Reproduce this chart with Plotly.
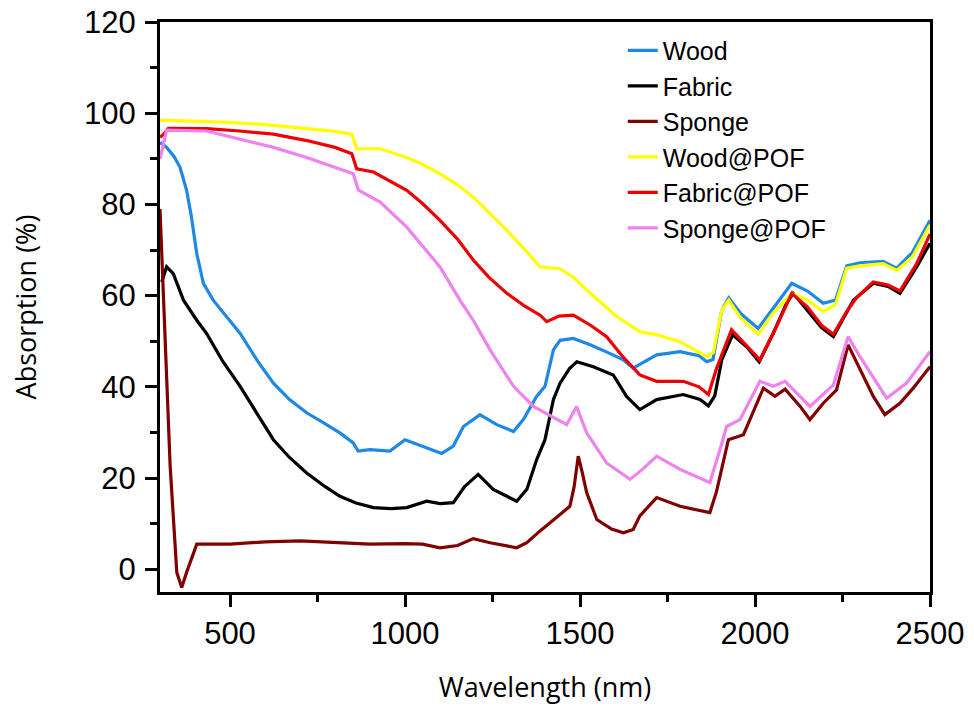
import plotly.graph_objects as go

wood_x = [300, 319, 340, 357, 376, 390, 405, 424, 452, 500, 529, 580, 624, 670, 719, 770, 814, 852, 866, 900, 957, 1000, 1052, 1105, 1138, 1167, 1214, 1262, 1310, 1338, 1376, 1400, 1424, 1443, 1481, 1529, 1580, 1624, 1652, 1690, 1719, 1786, 1840, 1862, 1880, 1905, 1925, 1960, 2009, 2050, 2105, 2150, 2195, 2230, 2262, 2300, 2366, 2405, 2450, 2500]
wood_y = [93.6, 92.5, 90.5, 88.2, 83.1, 77.2, 69.2, 62.7, 59, 54.6, 51.7, 45.5, 40.8, 37.2, 34.3, 32, 29.9, 27.7, 25.9, 26.2, 25.9, 28.4, 27, 25.4, 27, 31.3, 33.9, 31.7, 30.2, 32.8, 37.9, 40.1, 48.1, 50.2, 50.6, 49.2, 47.5, 45.9, 44.1, 45.8, 47, 47.7, 46.8, 45.5, 46, 56.8, 59.5, 56, 52.8, 57, 62.7, 61, 58.3, 59, 66.5, 67.2, 67.5, 66, 69.5, 76.5]

fabric_x = [305, 319, 338, 367, 405, 433, 480, 529, 580, 624, 670, 719, 770, 814, 860, 910, 960, 1005, 1062, 1100, 1138, 1171, 1209, 1252, 1291, 1319, 1348, 1376, 1400, 1424, 1443, 1470, 1491, 1538, 1595, 1633, 1671, 1719, 1795, 1843, 1867, 1885, 1905, 1936, 1976, 2012, 2052, 2090, 2109, 2148, 2190, 2224, 2262, 2281, 2338, 2380, 2414, 2462, 2500]
fabric_y = [63, 66.3, 64.8, 59, 54.6, 51.7, 45.5, 40.1, 33.8, 28.4, 24.5, 21.1, 18.2, 16, 14.5, 13.5, 13.3, 13.5, 14.9, 14.4, 14.6, 18.2, 20.8, 17.5, 16, 14.9, 17.5, 24, 28.4, 37.2, 40.8, 44, 45.5, 44.4, 42.6, 37.9, 35, 37.2, 38.3, 37.2, 35.8, 38, 45.9, 51.4, 48.8, 45.5, 51.7, 58.3, 60.5, 56.8, 53, 51, 56.1, 59, 62.7, 62, 60.5, 66.3, 71.5]

sponge_x = [300, 310, 329, 348, 362, 376, 405, 500, 600, 700, 800, 900, 1000, 1050, 1100, 1150, 1195, 1243, 1291, 1319, 1348, 1386, 1443, 1471, 1483, 1495, 1507, 1519, 1548, 1590, 1624, 1652, 1671, 1719, 1786, 1871, 1890, 1924, 1967, 1995, 2024, 2057, 2086, 2129, 2157, 2195, 2233, 2266, 2300, 2338, 2371, 2414, 2452, 2500]
sponge_y = [79, 59, 22.6, -0.7, -4, -0.7, 5.5, 5.5, 6, 6.2, 5.8, 5.5, 5.6, 5.5, 4.7, 5.2, 6.7, 5.8, 5.1, 4.7, 5.8, 8.4, 12, 13.8, 18, 24.8, 21, 16.8, 10.9, 8.8, 8, 8.7, 11.7, 15.7, 13.8, 12.4, 17, 28.4, 29.5, 34.3, 39.7, 37.9, 39.5, 35.7, 32.8, 36.4, 39.3, 49.2, 43.7, 37.9, 33.9, 36.4, 39.7, 44.4]

woodpof_x = [300, 400, 500, 600, 700, 800, 848, 862, 929, 1005, 1050, 1100, 1150, 1195, 1240, 1291, 1340, 1386, 1443, 1480, 1530, 1605, 1671, 1719, 1786, 1862, 1881, 1905, 1925, 1960, 2009, 2050, 2105, 2150, 2195, 2230, 2262, 2300, 2366, 2405, 2450, 2500]
woodpof_y = [98.5, 98.3, 98, 97.5, 96.8, 96, 95.4, 92.2, 92.2, 90.3, 88.8, 86.7, 84.3, 81.6, 78.2, 74.3, 70.3, 66.3, 65.9, 64.1, 60.5, 55.4, 52.1, 51.4, 49.9, 46.6, 47.5, 56.8, 59, 55, 51.5, 56, 60.5, 59, 56.5, 58, 66, 66.5, 67, 65.5, 68.5, 75.5]

fabricpof_x = [300, 312, 324, 433, 528, 624, 719, 800, 848, 862, 910, 1005, 1050, 1100, 1150, 1195, 1240, 1291, 1340, 1386, 1405, 1440, 1481, 1530, 1576, 1620, 1671, 1719, 1795, 1840, 1867, 1890, 1933, 1975, 2014, 2060, 2105, 2150, 2190, 2224, 2262, 2290, 2338, 2380, 2414, 2462, 2500]
fabricpof_y = [94.7, 95.5, 96.7, 96.6, 96.1, 95.4, 94, 92.5, 91.1, 87.8, 87.1, 83.1, 80.2, 76.5, 72.4, 67.8, 64, 60.5, 57.8, 55.7, 54.3, 55.5, 55.7, 53.5, 51, 46.8, 42.6, 41.2, 41.2, 40, 38.3, 44, 52.5, 49, 45.9, 53, 60.5, 57.5, 53.5, 51.5, 56.5, 59.5, 63, 62.3, 61, 67, 73.5]

spongepof_x = [300, 310, 319, 433, 529, 624, 719, 814, 852, 867, 929, 1005, 1050, 1100, 1157, 1195, 1243, 1310, 1367, 1443, 1462, 1490, 1519, 1576, 1643, 1680, 1719, 1786, 1871, 1900, 1919, 1957, 2014, 2052, 2086, 2157, 2224, 2266, 2300, 2376, 2433, 2500]
spongepof_y = [90, 93.5, 96.3, 96.1, 94.3, 92.5, 90.3, 87.8, 86.7, 83.1, 80.5, 75, 71, 66.3, 59, 54.6, 48.1, 40.1, 35.7, 32.4, 31.7, 35.7, 29.9, 23.3, 19.7, 22, 24.8, 21.9, 19, 26.2, 31.3, 32.8, 41.2, 40.1, 41.2, 35.7, 40.4, 51, 46.6, 37.5, 40.8, 47.7]

series = [
    ("Wood", wood_x, wood_y, "rgb(30,136,229)"),
    ("Fabric", fabric_x, fabric_y, "rgb(0,0,0)"),
    ("Sponge", sponge_x, sponge_y, "rgb(128,0,0)"),
    ("Wood@POF", woodpof_x, woodpof_y, "rgb(255,255,0)"),
    ("Fabric@POF", fabricpof_x, fabricpof_y, "rgb(238,0,0)"),
    ("Sponge@POF", spongepof_x, spongepof_y, "rgb(238,130,238)"),
]

fig = go.Figure()
for name, xs, ys, col in series:
    fig.add_trace(go.Scatter(x=xs, y=ys, mode="lines", name=name,
                             line=dict(color=col, width=3.2)))

tickfont = dict(family="Liberation Sans, Arial, sans-serif", size=31, color="black")
titlefont = dict(family="Open Sans, sans-serif", size=27, color="black")

fig.update_layout(
    width=974, height=706,
    margin=dict(l=160, r=44, t=22, b=114),
    paper_bgcolor="white", plot_bgcolor="white",
    showlegend=True,
    legend=dict(x=0.601, y=0.99, xanchor="left", yanchor="top",
                font=dict(family="Liberation Sans, Arial, sans-serif", size=25, color="black"),
                bgcolor="rgba(0,0,0,0)", itemwidth=30),
)
fig.update_xaxes(
    range=[300, 2500], dtick=500, showgrid=False, zeroline=False, automargin=False,
    showline=True, linewidth=3, linecolor="black", mirror=True,
    ticks="outside", ticklen=12, tickwidth=3, tickcolor="black",
    minor=dict(dtick=250, ticks="outside", ticklen=7, tickwidth=3, tickcolor="black", showgrid=False),
    tickfont=tickfont, ticklabeloverflow="allow",
    title=dict(text="Wavelength (nm)", font=titlefont, standoff=28),
)
fig.update_yaxes(
    range=[-5, 120], dtick=20, showgrid=False, zeroline=False, automargin=False,
    showline=True, linewidth=3, linecolor="black", mirror=True,
    ticks="outside", ticklen=12, tickwidth=3, tickcolor="black",
    minor=dict(dtick=10, ticks="outside", ticklen=7, tickwidth=3, tickcolor="black", showgrid=False),
    tickfont=tickfont, ticklabelstandoff=3, ticklabeloverflow="allow",
    title=dict(text="Absorption (%)", font=titlefont, standoff=40),
)

fig.write_html("out.html", config={"displayModeBar": False},
               post_script="document.body.style.margin='0';")
